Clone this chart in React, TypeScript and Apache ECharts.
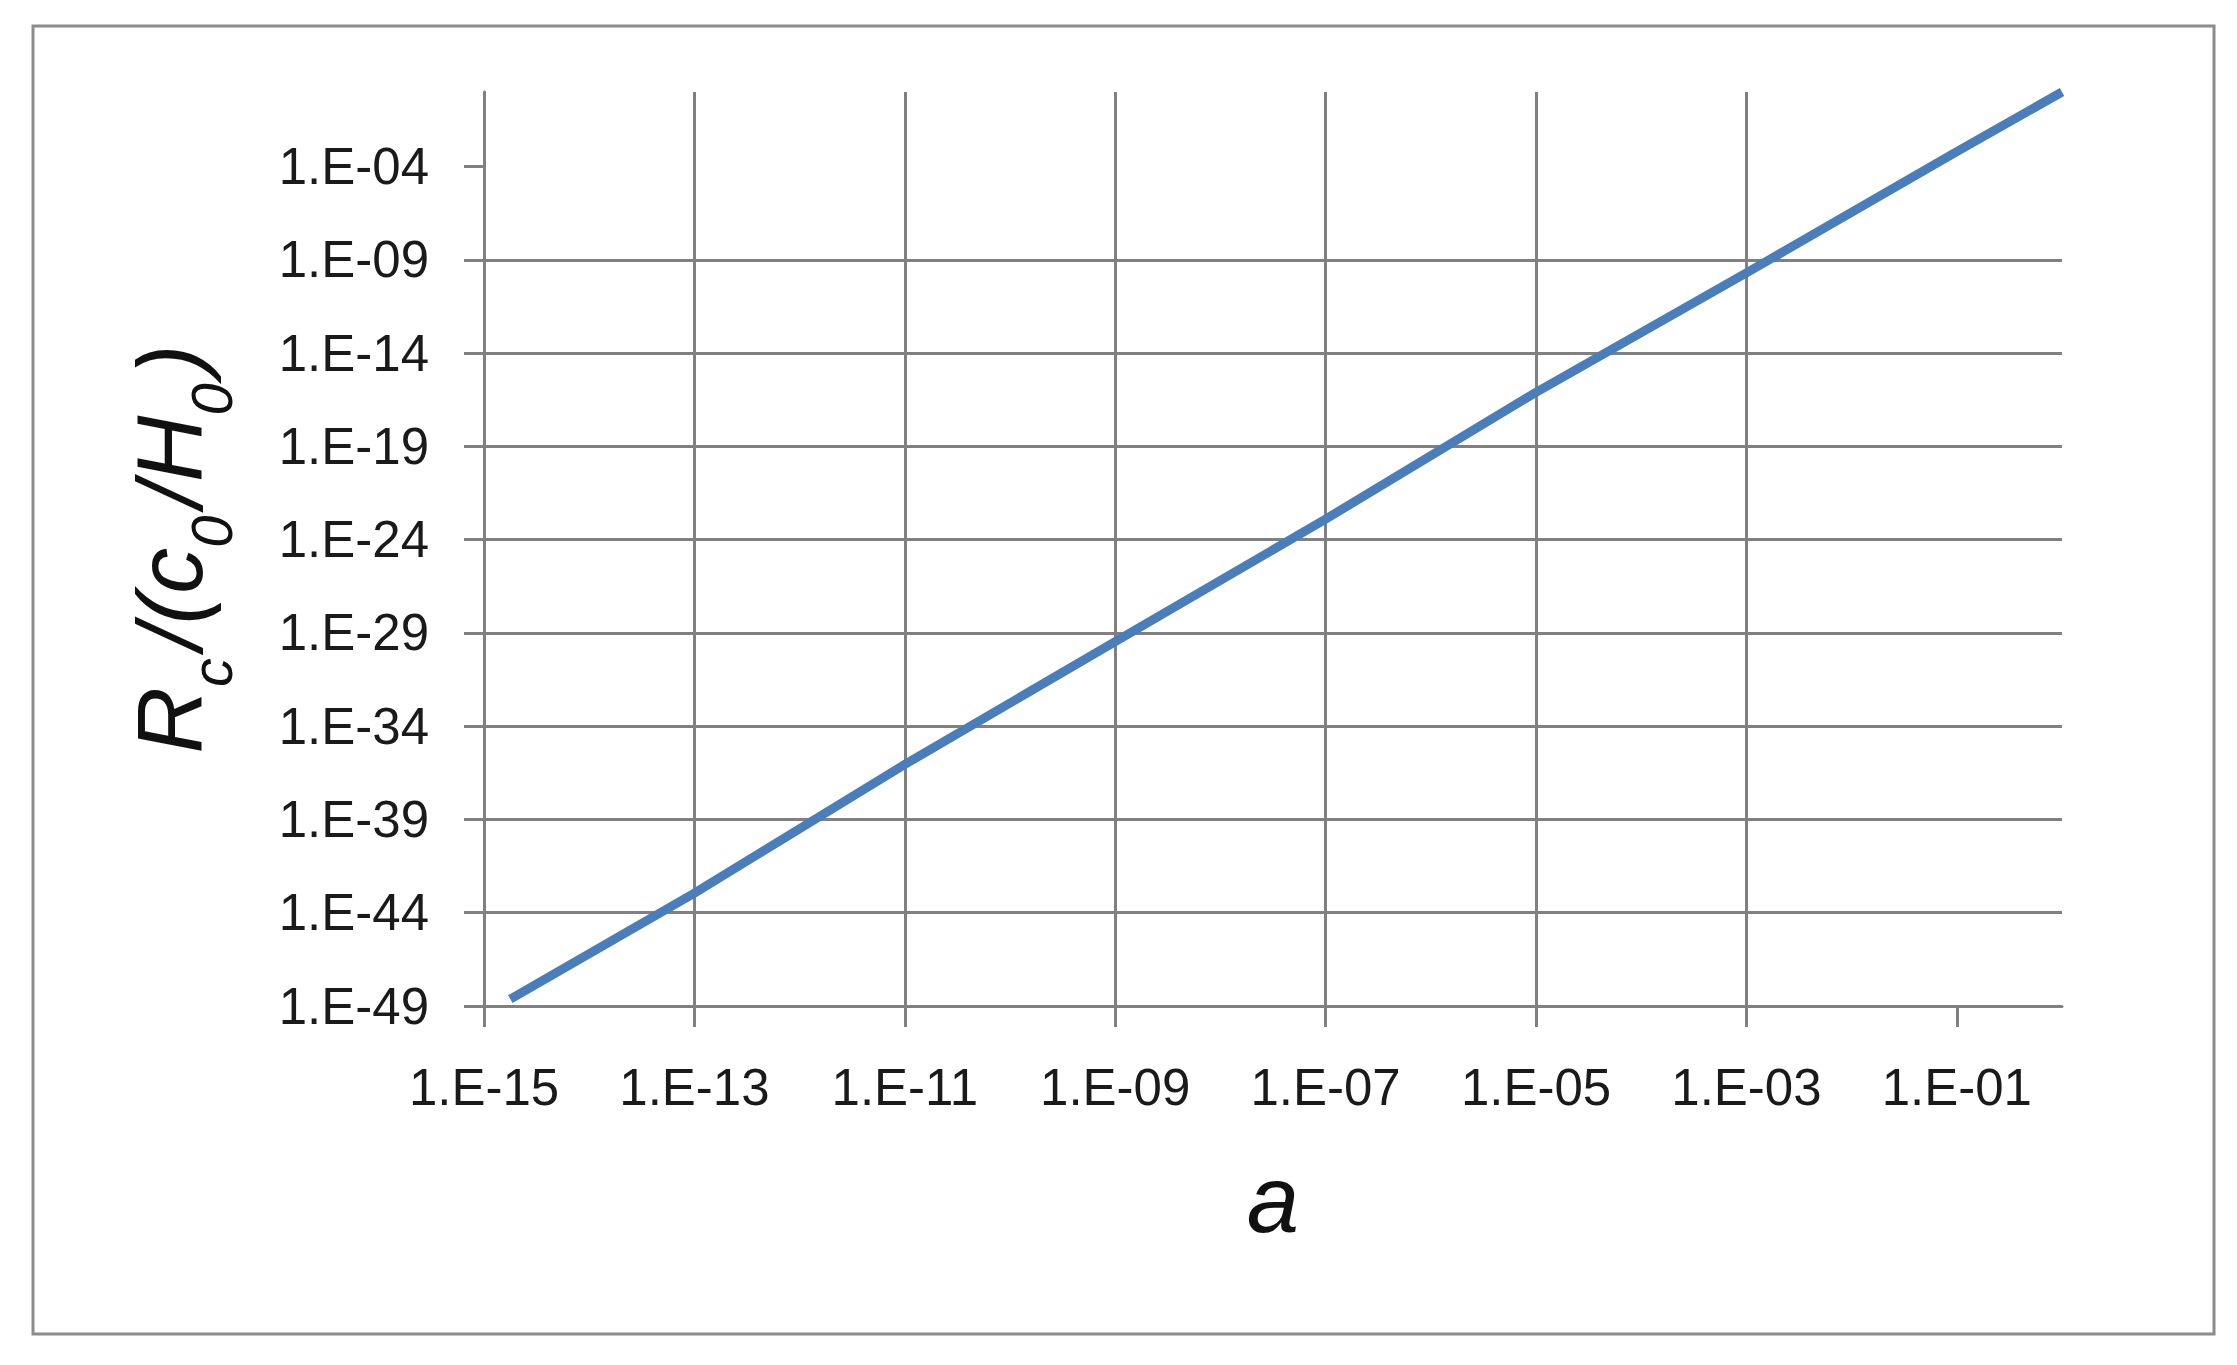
import React, { useEffect, useRef } from "react";
import * as echarts from "echarts";

// Scale factor a (x) and R_c/(c0/H0) (y)
const aValues = [1.78e-15, 1e-13, 1e-11, 1e-9, 1e-7, 1e-5, 1e-3, 1e-1, 1];
const rValues = [2.34e-49, 1.12e-43, 8.9e-37, 3.39e-30, 1.26e-23, 7.94e-17, 2.0e-10, 6.3e-4, 1];

const xTickValues = [1e-15, 1e-13, 1e-11, 1e-9, 1e-7, 1e-5, 1e-3, 1e-1];
const xTickLabels = ["1.E-15", "1.E-13", "1.E-11", "1.E-09", "1.E-07", "1.E-05", "1.E-03", "1.E-01"];
const yTickValues = [1e-49, 1e-44, 1e-39, 1e-34, 1e-29, 1e-24, 1e-19, 1e-14, 1e-9, 1e-4];
const yTickLabels = ["1.E-49", "1.E-44", "1.E-39", "1.E-34", "1.E-29", "1.E-24", "1.E-19", "1.E-14", "1.E-09", "1.E-04"];

const FONT = "'Liberation Sans', Arial, sans-serif";
const GRID_COLOR = "#808080";

function lookup(values: number[], labels: string[], v: number): string {
  for (let i = 0; i < values.length; i++) {
    if (Math.abs(Math.log10(values[i]) - Math.log10(v)) < 0.01) return labels[i];
  }
  return "";
}

export default function App() {
  const ref = useRef<HTMLDivElement>(null);

  useEffect(() => {
    document.body.style.margin = "0";
    if (!ref.current) return;
    const chart = echarts.init(ref.current, undefined, { renderer: "svg" });
    const data = aValues.map((a, i) => [a, rValues[i]]);
    const mainTok = {
      fontFamily: FONT,
      fontStyle: "italic",
      fontSize: 92,
      color: "#111",
      verticalAlign: "bottom",
      padding: [0, 0, 24, 0],
    };
    const subTok = {
      fontFamily: FONT,
      fontStyle: "italic",
      fontSize: 58,
      color: "#111",
      verticalAlign: "bottom",
      padding: [0, 8, 0, 0],
    };
    chart.setOption({
      animation: false,
      backgroundColor: "#ffffff",
      graphic: [
        {
          type: "rect",
          shape: { x: 33, y: 26, width: 2181, height: 1308 },
          style: { fill: "none", stroke: "#8c8c8c", lineWidth: 3 },
          silent: true,
        },
      ],
      grid: { left: 484, top: 92, right: 175, bottom: 359, containLabel: false },
      xAxis: {
        type: "log",
        logBase: 10,
        min: 1e-15,
        max: 1,
        name: "a",
        nameLocation: "middle",
        nameGap: 146,
        nameTextStyle: {
          fontFamily: FONT,
          fontStyle: "italic",
          fontSize: 94,
          color: "#111",
        },
        axisLine: { show: true, lineStyle: { color: GRID_COLOR, width: 3 } },
        axisTick: {
          show: true,
          length: 21,
          customValues: xTickValues,
          lineStyle: { color: GRID_COLOR, width: 3 },
        },
        axisLabel: {
          customValues: xTickValues,
          margin: 56,
          fontFamily: FONT,
          fontSize: 51,
          color: "#1a1a1a",
          formatter: (v: number) => lookup(xTickValues, xTickLabels, v),
        },
        splitLine: { show: true, showMaxLine: false, lineStyle: { color: GRID_COLOR, width: 3 } },
        minorTick: { show: false },
      },
      yAxis: {
        type: "log",
        logBase: 10,
        min: 1e-49,
        max: 1,
        name: "{i|R}{s|c}{i|/(c}{s|0}{i|/H}{s|0}{i|)}",
        nameLocation: "middle",
        nameRotate: 90,
        nameGap: 244,
        nameTextStyle: {
          fontFamily: FONT,
          fontStyle: "italic",
          fontSize: 92,
          color: "#111",
          rich: { i: mainTok, s: subTok },
        },
        axisLine: { show: true, lineStyle: { color: GRID_COLOR, width: 3 } },
        axisTick: {
          show: true,
          length: 20,
          customValues: yTickValues,
          lineStyle: { color: GRID_COLOR, width: 3 },
        },
        axisLabel: {
          customValues: yTickValues,
          margin: 55,
          fontFamily: FONT,
          fontSize: 51,
          color: "#1a1a1a",
          formatter: (v: number) => lookup(yTickValues, yTickLabels, v),
        },
        splitLine: { show: true, showMaxLine: false, lineStyle: { color: GRID_COLOR, width: 3 } },
        minorTick: { show: false },
      },
      series: [
        {
          type: "line",
          data,
          showSymbol: false,
          symbol: "none",
          lineStyle: { color: "#4a7ebb", width: 9, cap: "butt" },
          silent: true,
        },
      ],
    });
    return () => chart.dispose();
  }, []);

  return <div ref={ref} style={{ width: 2237, height: 1365 }} />;
}
